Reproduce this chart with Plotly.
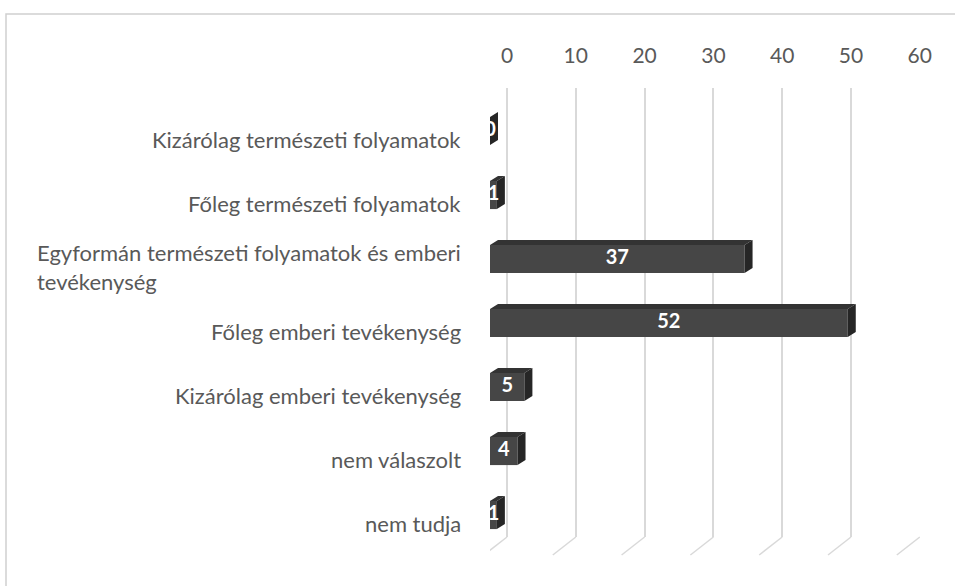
import plotly.graph_objects as go

categories = [
    "Kizárólag természeti folyamatok",
    "Főleg természeti folyamatok",
    "Egyformán természeti folyamatok és emberi<br>tevékenység",
    "Főleg emberi tevékenység",
    "Kizárólag emberi tevékenység",
    "nem válaszolt",
    "nem tudja",
]
values = [0, 1, 37, 52, 5, 4, 1]
tick_values = [0, 10, 20, 30, 40, 50, 60]

W, H = 955, 586
L, R, T, B = 490, 920, 88, 537            # plot area in px
px_per_unit = 6.88
x_range = [0, (R - L) / px_per_unit]
back_shift = 17 / px_per_unit             # back-plane offset of gridlines
x2_range = [x_range[0] - back_shift, x_range[1] - back_shift]
cat_px = 64
y_top = -(131 - T) / cat_px
y_range = [y_top + (B - T) / cat_px, y_top]

bar_w = 0.44
dx = 8 / px_per_unit
dy = 5 / cat_px

FRONT = "#464646"
TOP = "#333333"
SIDE = "#262626"
FONT = "Lato"
TXT = "#595959"

ypos = list(range(len(categories)))

fig = go.Figure()

fig.add_trace(go.Bar(
    x=values, y=ypos, orientation="h", width=bar_w,
    marker=dict(color=FRONT, line=dict(width=0)),
    xaxis="x", yaxis="y", showlegend=False, hoverinfo="x+y",
))

tx, ty, sx, sy = [], [], [], []
for i, v in zip(ypos, values):
    yt, yb = i - bar_w / 2, i + bar_w / 2
    tx += [0, v, v + dx, dx, 0, None]
    ty += [yt, yt, yt - dy, yt - dy, yt, None]
    sx += [v, v + dx, v + dx, v, v, None]
    sy += [yt, yt - dy, yb - dy, yb, yt, None]
fig.add_trace(go.Scatter(x=tx, y=ty, fill="toself", fillcolor=TOP, mode="lines",
                         line=dict(width=0, color=TOP), showlegend=False, hoverinfo="skip"))
fig.add_trace(go.Scatter(x=sx, y=sy, fill="toself", fillcolor=SIDE, mode="lines",
                         line=dict(width=0, color=SIDE), showlegend=False, hoverinfo="skip"))

fig.add_trace(go.Scatter(
    x=[v / 2 for v in values], y=ypos, mode="text",
    text=[str(v) for v in values],
    textfont=dict(family=FONT, size=20, color="white", weight="bold"),
    showlegend=False, hoverinfo="skip", cliponaxis=False,
))

fig.add_trace(go.Scatter(x=[tick_values[0]], y=[0], xaxis="x2", yaxis="y",
                         mode="markers", marker=dict(opacity=0), showlegend=False, hoverinfo="skip"))

floor_dx = 23 / px_per_unit
floor_dy = 18 / (B - T)
for v in tick_values:
    fig.add_shape(type="line", xref="x2", yref="paper",
                  x0=v, y0=0, x1=v - floor_dx, y1=-floor_dy,
                  line=dict(color="#d9d9d9", width=1.5), layer="below")

for i, c in zip(ypos, categories):
    fig.add_annotation(x=(463 - L) / (R - L), xref="paper", y=i, yref="y",
                       text=c, showarrow=False, xanchor="right", align="left",
                       yshift=-8, font=dict(family=FONT, size=22, color=TXT))

fig.add_shape(type="rect", xref="paper", yref="paper",
              x0=(6 - L) / (R - L), x1=1.3, y0=-0.3, y1=(B - 14) / (B - T),
              line=dict(color="#d0d0d0", width=1.5), fillcolor="rgba(0,0,0,0)", layer="below")

fig.update_layout(
    width=W, height=H,
    margin=dict(l=L, r=W - R, t=T, b=H - B),
    paper_bgcolor="white", plot_bgcolor="white",
    xaxis=dict(range=x_range, visible=False, fixedrange=True),
    xaxis2=dict(range=x2_range, overlaying="x", side="top", tickvals=tick_values,
                showgrid=True, gridcolor="#d9d9d9", gridwidth=1.5, zeroline=False,
                showline=False, ticks="", ticklabelstandoff=20,
                tickfont=dict(family=FONT, size=21, color=TXT)),
    yaxis=dict(range=y_range, visible=False),
    font=dict(family=FONT),
)

fig.write_html("out.html", config={"displayModeBar": False},
               post_script="document.body.style.margin='0';document.body.style.overflow='hidden';")
